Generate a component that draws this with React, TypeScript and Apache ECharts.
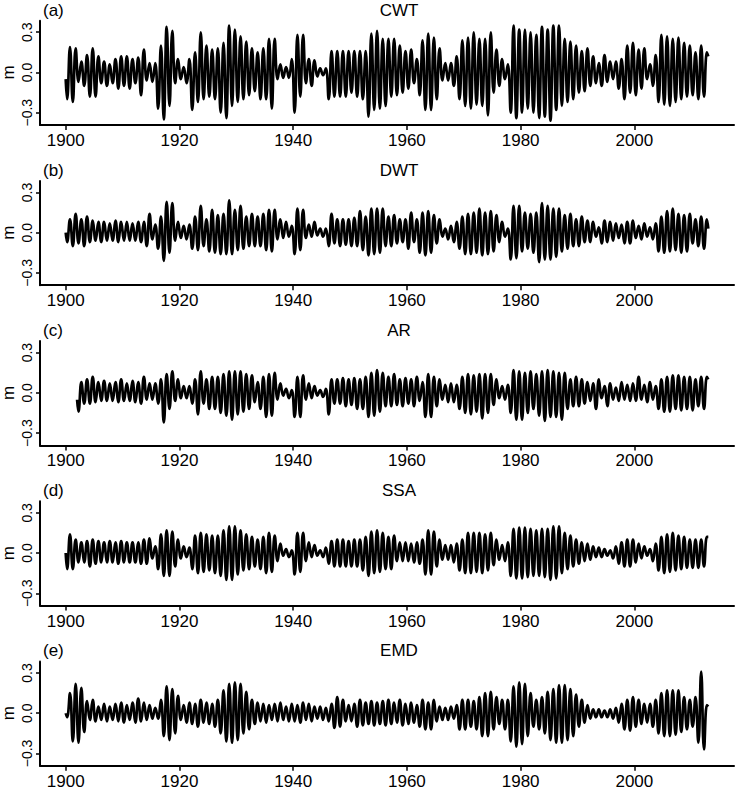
import React, { useEffect, useRef } from "react";
import * as echarts from "echarts";

// ---- Data (annual cycle extremes, metres) ----
const panelNames = ["CWT", "DWT", "AR", "SSA", "EMD"];
const panelTags = ["(a)", "(b)", "(c)", "(d)", "(e)"];
const yName = "m";
const xTicks = [1900, 1920, 1940, 1960, 1980, 2000];
const yTicks = [-0.3, 0, 0.3];

// CWT, years 1900..2012
const cwtStart = 1900;
const cwtFirst = -0.05;
const cwtLast = 0.12;
const cwtPeaks = [
  0.19, 0.18, 0.08, 0.13, 0.18, 0.12, 0.08, 0.06, 0.1, 0.12,
  0.12, 0.1, 0.11, 0.17, 0.07, 0.07, 0.2, 0.34, 0.31, 0.1,
  0.04, 0.1, 0.15, 0.3, 0.2, 0.17, 0.18, 0.22, 0.35, 0.32,
  0.27, 0.23, 0.18, 0.15, 0.18, 0.25, 0.25, 0.06, 0.04, 0.1,
  0.28, 0.28, 0.1, 0.09, 0.03, 0.03, 0.16, 0.16, 0.16, 0.16,
  0.16, 0.16, 0.16, 0.29, 0.31, 0.25, 0.25, 0.25, 0.2, 0.16,
  0.17, 0.1, 0.24, 0.29, 0.26, 0.18, 0.07, 0.07, 0.12, 0.24,
  0.26, 0.3, 0.25, 0.25, 0.3, 0.17, 0.1, 0.06, 0.35, 0.32,
  0.32, 0.3, 0.28, 0.34, 0.32, 0.35, 0.35, 0.25, 0.23, 0.2,
  0.16, 0.18, 0.12, 0.07, 0.13, 0.08, 0.08, 0.1, 0.2, 0.22,
  0.17, 0.18, 0.06, 0.13, 0.28, 0.27, 0.25, 0.26, 0.22, 0.2,
  0.15, 0.2, 0.15,
];
const cwtTroughs = [
  -0.2, -0.22, -0.07, -0.1, -0.18, -0.18, -0.08, -0.1, -0.08, -0.12,
  -0.1, -0.12, -0.08, -0.17, -0.06, -0.07, -0.27, -0.35, -0.25, -0.08,
  -0.05, -0.08, -0.28, -0.22, -0.2, -0.18, -0.2, -0.3, -0.34, -0.25,
  -0.22, -0.2, -0.17, -0.14, -0.2, -0.2, -0.27, -0.05, -0.04, -0.04,
  -0.3, -0.18, -0.08, -0.1, -0.03, -0.02, -0.2, -0.18, -0.18, -0.18,
  -0.15, -0.18, -0.2, -0.33, -0.28, -0.27, -0.25, -0.18, -0.17, -0.15,
  -0.12, -0.08, -0.17, -0.28, -0.28, -0.2, -0.06, -0.06, -0.1, -0.2,
  -0.25, -0.27, -0.24, -0.25, -0.32, -0.15, -0.1, -0.05, -0.3, -0.34,
  -0.3, -0.27, -0.3, -0.34, -0.33, -0.36, -0.28, -0.25, -0.22, -0.2,
  -0.15, -0.14, -0.1, -0.08, -0.1, -0.07, -0.05, -0.12, -0.2, -0.15,
  -0.17, -0.12, -0.05, -0.1, -0.22, -0.24, -0.25, -0.22, -0.2, -0.18,
  -0.17, -0.2, -0.18,
];

// DWT, years 1900..2012
const dwtStart = 1900;
const dwtFirst = 0.0;
const dwtLast = 0.03;
const dwtPeaks = [
  0.1, 0.14, 0.1, 0.12, 0.09, 0.08, 0.08, 0.07, 0.09, 0.08,
  0.08, 0.07, 0.08, 0.08, 0.14, 0.06, 0.12, 0.23, 0.22, 0.08,
  0.05, 0.06, 0.12, 0.2, 0.1, 0.17, 0.13, 0.14, 0.24, 0.17,
  0.2, 0.12, 0.14, 0.12, 0.14, 0.17, 0.17, 0.1, 0.08, 0.05,
  0.18, 0.17, 0.06, 0.08, 0.03, 0.03, 0.14, 0.1, 0.1, 0.1,
  0.11, 0.16, 0.12, 0.18, 0.18, 0.18, 0.12, 0.13, 0.1, 0.1,
  0.15, 0.1, 0.15, 0.16, 0.13, 0.1, 0.03, 0.05, 0.08, 0.12,
  0.14, 0.15, 0.18, 0.15, 0.16, 0.13, 0.08, 0.03, 0.2, 0.2,
  0.15, 0.14, 0.15, 0.22, 0.2, 0.18, 0.18, 0.13, 0.14, 0.1,
  0.12, 0.09, 0.08, 0.04, 0.09, 0.08, 0.07, 0.06, 0.08, 0.09,
  0.05, 0.07, 0.04, 0.07, 0.12, 0.16, 0.18, 0.14, 0.13, 0.14,
  0.1, 0.12, 0.1,
];
const dwtTroughs = [
  -0.07, -0.1, -0.08, -0.1, -0.07, -0.06, -0.07, -0.06, -0.06, -0.07,
  -0.06, -0.06, -0.06, -0.07, -0.1, -0.05, -0.12, -0.21, -0.15, -0.06,
  -0.04, -0.05, -0.12, -0.13, -0.1, -0.14, -0.15, -0.16, -0.16, -0.16,
  -0.13, -0.12, -0.1, -0.1, -0.1, -0.13, -0.14, -0.05, -0.04, -0.03,
  -0.16, -0.13, -0.04, -0.03, -0.02, -0.03, -0.1, -0.08, -0.1, -0.09,
  -0.1, -0.1, -0.13, -0.17, -0.16, -0.15, -0.1, -0.1, -0.08, -0.07,
  -0.12, -0.07, -0.15, -0.17, -0.15, -0.08, -0.03, -0.05, -0.07, -0.12,
  -0.16, -0.16, -0.15, -0.17, -0.16, -0.14, -0.07, -0.03, -0.2, -0.19,
  -0.14, -0.12, -0.15, -0.22, -0.2, -0.2, -0.18, -0.14, -0.12, -0.1,
  -0.1, -0.07, -0.07, -0.03, -0.08, -0.07, -0.06, -0.04, -0.08, -0.08,
  -0.04, -0.05, -0.03, -0.05, -0.14, -0.15, -0.14, -0.13, -0.15, -0.14,
  -0.08, -0.1, -0.12,
];

// AR, years 1902..2012
const arStart = 1902;
const arFirst = -0.05;
const arLast = 0.1;
const arPeaks = [
  0.08, 0.1, 0.12, 0.08, 0.09, 0.07, 0.08, 0.1,
  0.07, 0.09, 0.08, 0.12, 0.07, 0.07, 0.1, 0.14, 0.16, 0.1,
  0.05, 0.05, 0.1, 0.16, 0.1, 0.12, 0.12, 0.14, 0.16, 0.16,
  0.16, 0.14, 0.13, 0.08, 0.12, 0.14, 0.15, 0.07, 0.03, 0.02,
  0.12, 0.13, 0.07, 0.05, 0.02, 0.03, 0.1, 0.1, 0.11, 0.1,
  0.11, 0.1, 0.12, 0.15, 0.17, 0.15, 0.12, 0.14, 0.1, 0.11,
  0.1, 0.12, 0.08, 0.14, 0.12, 0.1, 0.06, 0.07, 0.06, 0.12,
  0.14, 0.13, 0.14, 0.14, 0.14, 0.1, 0.05, 0.06, 0.17, 0.16,
  0.15, 0.16, 0.14, 0.16, 0.17, 0.16, 0.15, 0.15, 0.1, 0.12,
  0.1, 0.08, 0.07, 0.1, 0.05, 0.07, 0.04, 0.08, 0.06, 0.07,
  0.12, 0.06, 0.08, 0.05, 0.1, 0.12, 0.13, 0.13, 0.12, 0.12,
  0.1, 0.12, 0.12,
];
const arTroughs = [
  -0.14, -0.08, -0.08, -0.07, -0.06, -0.06, -0.06, -0.07,
  -0.06, -0.06, -0.07, -0.08, -0.05, -0.05, -0.08, -0.22, -0.12, -0.06,
  -0.04, -0.04, -0.08, -0.16, -0.08, -0.12, -0.12, -0.15, -0.17, -0.2,
  -0.16, -0.14, -0.12, -0.07, -0.12, -0.18, -0.17, -0.05, -0.02, -0.04,
  -0.18, -0.18, -0.05, -0.04, -0.02, -0.03, -0.16, -0.08, -0.08, -0.1,
  -0.09, -0.12, -0.12, -0.18, -0.17, -0.14, -0.1, -0.1, -0.09, -0.1,
  -0.08, -0.1, -0.06, -0.18, -0.18, -0.1, -0.05, -0.07, -0.07, -0.12,
  -0.15, -0.16, -0.14, -0.19, -0.15, -0.09, -0.04, -0.05, -0.15, -0.2,
  -0.2, -0.15, -0.12, -0.17, -0.21, -0.18, -0.18, -0.2, -0.12, -0.1,
  -0.1, -0.08, -0.06, -0.12, -0.04, -0.1, -0.05, -0.06, -0.05, -0.06,
  -0.06, -0.05, -0.07, -0.05, -0.12, -0.14, -0.14, -0.12, -0.13, -0.12,
  -0.13, -0.1, -0.12,
];

// SSA, years 1900..2012
const ssaStart = 1900;
const ssaFirst = 0.0;
const ssaLast = 0.12;
const ssaPeaks = [
  0.14, 0.1, 0.08, 0.09, 0.1, 0.09, 0.08, 0.09, 0.08, 0.09,
  0.08, 0.08, 0.08, 0.1, 0.11, 0.05, 0.14, 0.17, 0.16, 0.1,
  0.05, 0.04, 0.13, 0.15, 0.14, 0.13, 0.13, 0.17, 0.2, 0.2,
  0.17, 0.14, 0.12, 0.1, 0.12, 0.15, 0.13, 0.07, 0.03, 0.02,
  0.15, 0.15, 0.08, 0.06, 0.02, 0.04, 0.09, 0.1, 0.1, 0.09,
  0.1, 0.1, 0.12, 0.16, 0.17, 0.15, 0.12, 0.13, 0.08, 0.08,
  0.07, 0.08, 0.1, 0.17, 0.16, 0.1, 0.06, 0.06, 0.07, 0.1,
  0.15, 0.15, 0.15, 0.14, 0.15, 0.1, 0.06, 0.08, 0.18, 0.19,
  0.19, 0.18, 0.17, 0.18, 0.18, 0.2, 0.2, 0.15, 0.13, 0.1,
  0.08, 0.07, 0.05, 0.04, 0.03, 0.02, 0.05, 0.08, 0.1, 0.1,
  0.07, 0.05, 0.03, 0.07, 0.12, 0.14, 0.15, 0.13, 0.12, 0.1,
  0.1, 0.1, 0.12,
];
const ssaTroughs = [
  -0.12, -0.12, -0.07, -0.07, -0.1, -0.08, -0.07, -0.07, -0.07, -0.08,
  -0.07, -0.07, -0.07, -0.08, -0.08, -0.04, -0.12, -0.17, -0.17, -0.1,
  -0.04, -0.03, -0.12, -0.15, -0.14, -0.13, -0.15, -0.17, -0.2, -0.2,
  -0.16, -0.13, -0.12, -0.1, -0.12, -0.15, -0.14, -0.06, -0.02, -0.03,
  -0.16, -0.14, -0.06, -0.03, -0.02, -0.03, -0.08, -0.1, -0.1, -0.1,
  -0.1, -0.1, -0.13, -0.17, -0.15, -0.14, -0.12, -0.12, -0.06, -0.06,
  -0.06, -0.07, -0.08, -0.16, -0.16, -0.1, -0.05, -0.05, -0.07, -0.13,
  -0.15, -0.15, -0.14, -0.15, -0.13, -0.09, -0.05, -0.06, -0.17, -0.19,
  -0.19, -0.18, -0.17, -0.17, -0.18, -0.2, -0.19, -0.15, -0.12, -0.1,
  -0.08, -0.06, -0.05, -0.03, -0.03, -0.02, -0.04, -0.08, -0.1, -0.1,
  -0.07, -0.04, -0.02, -0.06, -0.13, -0.15, -0.14, -0.13, -0.12, -0.11,
  -0.11, -0.11, -0.1,
];

// EMD, years 1900..2012
const emdStart = 1900;
const emdFirst = 0.0;
const emdLast = 0.05;
const emdPeaks = [
  0.15, 0.22, 0.19, 0.09, 0.1, 0.05, 0.07, 0.05, 0.07, 0.08,
  0.06, 0.08, 0.11, 0.08, 0.06, 0.04, 0.1, 0.2, 0.18, 0.13,
  0.06, 0.08, 0.07, 0.1, 0.08, 0.07, 0.1, 0.17, 0.22, 0.23,
  0.22, 0.16, 0.1, 0.08, 0.07, 0.06, 0.07, 0.08, 0.05, 0.07,
  0.06, 0.08, 0.07, 0.05, 0.05, 0.04, 0.07, 0.12, 0.1, 0.06,
  0.07, 0.1, 0.08, 0.09, 0.08, 0.09, 0.1, 0.08, 0.1, 0.07,
  0.08, 0.06, 0.1, 0.08, 0.1, 0.05, 0.04, 0.05, 0.06, 0.1,
  0.1, 0.09, 0.12, 0.15, 0.16, 0.12, 0.1, 0.1, 0.2, 0.23,
  0.22, 0.15, 0.1, 0.12, 0.16, 0.18, 0.21, 0.21, 0.18, 0.14,
  0.1, 0.06, 0.03, 0.03, 0.02, 0.03, 0.04, 0.07, 0.1, 0.12,
  0.1, 0.07, 0.07, 0.1, 0.15, 0.17, 0.17, 0.17, 0.12, 0.1,
  0.12, 0.31, 0.06,
];
const emdTroughs = [
  -0.03, -0.21, -0.22, -0.14, -0.05, -0.06, -0.05, -0.06, -0.05, -0.06,
  -0.07, -0.05, -0.07, -0.06, -0.05, -0.04, -0.04, -0.17, -0.2, -0.15,
  -0.05, -0.07, -0.08, -0.1, -0.07, -0.08, -0.1, -0.15, -0.21, -0.22,
  -0.2, -0.15, -0.12, -0.08, -0.06, -0.07, -0.05, -0.06, -0.05, -0.06,
  -0.06, -0.07, -0.05, -0.06, -0.04, -0.05, -0.06, -0.11, -0.1, -0.06,
  -0.06, -0.1, -0.09, -0.08, -0.09, -0.08, -0.09, -0.08, -0.07, -0.09,
  -0.08, -0.07, -0.1, -0.12, -0.12, -0.06, -0.05, -0.05, -0.04, -0.12,
  -0.12, -0.1, -0.12, -0.17, -0.17, -0.12, -0.08, -0.12, -0.21, -0.25,
  -0.23, -0.17, -0.1, -0.12, -0.15, -0.2, -0.22, -0.22, -0.2, -0.17,
  -0.1, -0.07, -0.04, -0.03, -0.03, -0.03, -0.04, -0.07, -0.12, -0.13,
  -0.1, -0.08, -0.07, -0.1, -0.15, -0.17, -0.17, -0.16, -0.14, -0.12,
  -0.1, -0.22, -0.27,
];

const panels = [
  { start: cwtStart, first: cwtFirst, last: cwtLast, peaks: cwtPeaks, troughs: cwtTroughs },
  { start: dwtStart, first: dwtFirst, last: dwtLast, peaks: dwtPeaks, troughs: dwtTroughs },
  { start: arStart, first: arFirst, last: arLast, peaks: arPeaks, troughs: arTroughs },
  { start: ssaStart, first: ssaFirst, last: ssaLast, peaks: ssaPeaks, troughs: ssaTroughs },
  { start: emdStart, first: emdFirst, last: emdLast, peaks: emdPeaks, troughs: emdTroughs },
];

function buildSeries(p: any): number[][] {
  const pts: number[][] = [[p.start, p.first]];
  for (let i = 0; i < p.peaks.length; i++) {
    pts.push([p.start + i + 0.25, p.troughs[i]]);
    pts.push([p.start + i + 0.75, p.peaks[i]]);
  }
  pts.push([p.start + p.peaks.length, p.last]);
  return pts;
}

const FONT = "'Liberation Sans', Arial, Helvetica, sans-serif";
const PITCH = 160.2;
const TOP0 = 20.7;
const PH = 104.3;
const Y_MIN = -0.392;
const Y_MAX = 0.386;

export default function App() {
  const ref = useRef<HTMLDivElement>(null);
  useEffect(() => {
    document.body.style.margin = "0";
    const chart = echarts.init(ref.current!, null, { renderer: "svg" });
    const grids: any[] = [];
    const xAxes: any[] = [];
    const yAxes: any[] = [];
    const series: any[] = [];
    const graphics: any[] = [];
    panels.forEach((p, i) => {
      const top = TOP0 + i * PITCH;
      grids.push({ left: 40, width: 694, top, height: PH, containLabel: false, outerBoundsMode: "none" });
      xAxes.push({
        type: "value",
        gridIndex: i,
        min: 1895.48,
        max: 2017.52,
        splitLine: { show: false },
        axisLine: { show: true, onZero: false, lineStyle: { color: "#000", width: 2 } },
        axisTick: { show: true, length: 5, customValues: xTicks, lineStyle: { color: "#000", width: 1.5 } },
        axisLabel: {
          customValues: xTicks,
          color: "#000",
          fontFamily: FONT,
          fontSize: 17,
          margin: 7,
          formatter: (v: number) => String(v),
        },
      });
      yAxes.push({
        type: "value",
        gridIndex: i,
        min: Y_MIN,
        max: Y_MAX,
        splitLine: { show: false },
        axisLine: { show: true, lineStyle: { color: "#000", width: 2 } },
        axisTick: { show: true, length: 4, customValues: yTicks, lineStyle: { color: "#000", width: 1.5 } },
        axisLabel: {
          customValues: yTicks,
          rotate: 90,
          color: "#000",
          fontFamily: FONT,
          fontSize: 14,
          margin: 6,
          formatter: (v: number) => (Math.abs(v) < 1e-9 ? "0.0" : v.toFixed(1).replace("-", "\u2212")),
        },
      });
      series.push({
        type: "line",
        xAxisIndex: i,
        yAxisIndex: i,
        data: buildSeries(p),
        smooth: 0.45,
        showSymbol: false,
        lineStyle: { color: "#000", width: 2.7 },
      });
      graphics.push({
        type: "text",
        x: 399,
        y: 10 + i * PITCH,
        style: { text: panelNames[i], font: `17px ${FONT}`, fill: "#000", textAlign: "center", textVerticalAlign: "middle" },
      });
      graphics.push({
        type: "text",
        x: 43,
        y: 10 + i * PITCH,
        style: { text: panelTags[i], font: `17px ${FONT}`, fill: "#000", textAlign: "left", textVerticalAlign: "middle" },
      });
      graphics.push({
        type: "text",
        x: 8,
        y: top + (Y_MAX / (Y_MAX - Y_MIN)) * PH,
        rotation: Math.PI / 2,
        style: { text: yName, font: `17px ${FONT}`, fill: "#000", textAlign: "center", textVerticalAlign: "middle" },
      });
    });
    chart.setOption({
      animation: false,
      backgroundColor: "#fff",
      grid: grids,
      xAxis: xAxes,
      yAxis: yAxes,
      series,
      graphic: graphics,
    });
    return () => chart.dispose();
  }, []);
  return <div ref={ref} style={{ width: 737, height: 801 }} />;
}
